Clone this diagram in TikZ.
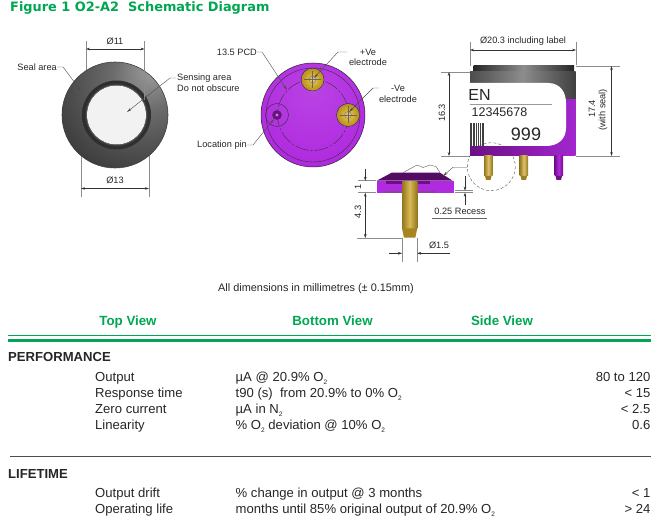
\documentclass[tikz,border=0pt]{standalone}
\usepackage{fontspec}
\setmainfont{Liberation Sans}
\newfontfamily\titlefont{DejaVu Sans}
\usetikzlibrary{arrows.meta}
\definecolor{sensgreen}{HTML}{00A651}
\definecolor{sensviolet}{HTML}{B02AE0}
\definecolor{sensdeep}{HTML}{6E0F86}
\definecolor{sensgold}{HTML}{D0A82A}
\pgfdeclareradialshading{sealshade}{\pgfpoint{18bp}{22bp}}{color(0bp)=(black!38); color(16bp)=(black!58); color(40bp)=(black!76); color(85bp)=(black!84)}
\pgfdeclareradialshading{violetshade}{\pgfpoint{0bp}{12bp}}{color(0bp)=(sensviolet!88!white); color(30bp)=(sensviolet); color(64bp)=(sensviolet!72!black)}
\pgfdeclareradialshading{padshade}{\pgfpoint{0bp}{0bp}}{color(0bp)=(sensgold!60!white); color(14bp)=(sensgold); color(25bp)=(sensgold!85!black)}
\tikzset{
 dimline/.style={black!80, line width=0.45pt, {Stealth[length=4pt,width=2.6pt]}-{Stealth[length=4pt,width=2.6pt]}},
 dimtip/.style={black!80, line width=0.45pt, -{Stealth[length=4pt,width=2.6pt]}},
 extline/.style={black!45, line width=0.4pt},
 leader/.style={black!70, line width=0.4pt, -{Stealth[length=5pt,width=2.4pt]}},
 padmark/.style={black!60, line width=0.25pt},
 notetext/.style={font=\fontsize{9.2}{10.7}\selectfont, text=black!85, inner sep=0pt, align=center},
 viewtitle/.style={font=\fontsize{13.3}{15}\selectfont\bfseries, text=sensgreen, inner sep=0pt, anchor=base},
 headtext/.style={font=\fontsize{13.1}{15}\selectfont\bfseries, text=black!85, inner sep=0pt, anchor=base west},
 celltext/.style={font=\fontsize{13.1}{15}\selectfont, text=black!85, inner sep=0pt, anchor=base west},
 valuetext/.style={font=\fontsize{13.1}{15}\selectfont, text=black!85, inner sep=0pt, anchor=base east},
 labeltext/.style={inner sep=0pt, text=black!85}
}
\newcommand{\subtwo}{\raisebox{-3pt}{\fontsize{6.5}{7}\selectfont 2}}
\begin{document}
\begin{tikzpicture}[x=1pt,y=-1pt]
\useasboundingbox (0,0) rectangle (656,529);
\node [inner sep=0pt, anchor=west, text=sensgreen] (figtitle) at (10,8) {\titlefont\fontsize{12.9}{15}\selectfont\bfseries Figure 1 O2-A2\ \ Schematic Diagram};
% top view
\draw [extline] (86,41) -- (86,72);
\draw [extline] (81,150) -- (81,197);
\draw [extline] (149,150) -- (149,197);
\shade [shading=sealshade] (115,115) circle [radius=53];
\draw [black!75, line width=0.6pt] (115,115) circle [radius=53];
\shade [inner color=black!45, outer color=black!82] (116.5,115) circle [radius=34.5];
\draw [black!85, line width=0.4pt] (116.5,115) circle [radius=32.5];
\fill [black!5] (116.5,115) circle [radius=29.5];
\draw [black!60, line width=0.5pt] (116.5,115) circle [radius=30];
\draw [extline] (144.5,41) -- (144.5,100);
\draw [dimline] (86,49) -- (144.5,49);
\draw [dimline] (81,188.5) -- (149,188.5);
\node [notetext] (topdia) at (115,41) {Ø11};
\node [notetext] (topseal) at (115,180) {Ø13};
\node [notetext, anchor=east] (seallabel) at (57,67) {Seal area};
\node [notetext, anchor=west, align=left] (senselabel) at (177,83) {Sensing area\\Do not obscure};
\coordinate (sealtip) at (81,91);
\coordinate (sensetip) at (127,112);
\draw [leader] (seallabel.east) -- (63,67) -- (sealtip);
\draw [leader] (176,78) -- (170,78) -- (sensetip);
% bottom view
\shade [shading=violetshade] (313,115) circle [radius=52];
\draw [black!85, line width=0.5pt] (313,115) circle [radius=52];
\draw [black!80, line width=0.4pt] (313,115) circle [radius=47];
\draw [black!80, line width=0.4pt, dash pattern=on 14pt off 2pt on 2pt off 2pt] (313,115) circle [radius=35.5];
\shade [shading=padshade] (312.5,79.5) circle [radius=11.5];
\draw [black!80, line width=0.4pt] (312.5,79.5) circle [radius=11.5];
\shade [shading=padshade] (348,115) circle [radius=11.5];
\draw [black!80, line width=0.4pt] (348,115) circle [radius=11.5];
\draw [padmark] (312.5,79.5) circle [radius=3.5];
\draw [padmark] (348,115) circle [radius=3.5];
\draw [padmark] (304,79.5) -- (321,79.5);
\draw [padmark] (312.5,71) -- (312.5,88);
\draw [padmark] (339.5,115) -- (356.5,115);
\draw [padmark] (348,106.5) -- (348,123.5);
\draw [black!80, line width=0.4pt] (277,115) circle [radius=11.5];
\draw [black!80, fill=sensdeep] (277,115) circle [radius=4.5];
\fill [sensviolet!60!white] (277,115) circle [radius=1.6];
\node [notetext, anchor=east] (pcdlabel) at (257,52) {13.5 PCD};
\node [notetext] (poslabel) at (368,57.5) {+Ve\\electrode};
\node [notetext] (neglabel) at (398,94) {-Ve\\electrode};
\node [notetext, anchor=east] (pinlabel) at (247,145) {Location pin};
\coordinate (pcdtip) at (287,90);
\coordinate (postip) at (314,78);
\coordinate (negtip) at (349,112);
\coordinate (pintip) at (274,119);
\draw [leader] (pcdlabel.east) -- (262,52) -- (pcdtip);
\draw [leader] (347,52) -- (338,52) -- (postip);
\draw [leader] (379,88) -- (373,88) -- (negtip);
\draw [leader] (pinlabel.east) -- (253,145) -- (pintip);
% side view
\draw [extline] (470,42) -- (470,66);
\draw [extline] (576,42) -- (576,65);
\draw [extline] (441,72) -- (470,72);
\draw [extline] (441,156) -- (470,156);
\draw [extline] (576,66) -- (620,66);
\draw [extline] (576,156) -- (620,156);
\draw [dimline] (470,50) -- (576,50);
\draw [dimline] (449,72) -- (449,156);
\draw [dimline] (611.5,66) -- (611.5,156);
\shade [left color=black!85, right color=black!85, middle color=black!45] (473.5,66) rectangle (574,72);
\shade [left color=black!70, right color=black!75, middle color=black!45] (470,72) rectangle (575.5,100);
\shade [left color=sensdeep, right color=sensviolet!92!black] (470,100) rectangle (575.5,156);
\shade [left color=sensgold!70!black, right color=sensgold!70!black, middle color=sensgold!70!white] (484,156) rectangle (492.5,176);
\fill [sensgold!75!black] (485,176) -- (491.5,176) -- (490.5,180) -- (486,180) -- cycle;
\shade [left color=sensgold!70!black, right color=sensgold!70!black, middle color=sensgold!70!white] (519.5,156) rectangle (528,176);
\fill [sensgold!75!black] (520.5,176) -- (527,176) -- (526,180) -- (521.5,180) -- cycle;
\shade [left color=sensdeep, right color=sensdeep, middle color=sensviolet] (554.5,156) rectangle (563,176);
\fill [sensdeep] (555.5,176) -- (562,176) -- (561,180) -- (556.5,180) -- cycle;
\fill [white] (470,83) -- (548,83) .. controls (560,83) and (566,92) .. (566,103) -- (566,128) .. controls (566,139) and (558,146) .. (546,146) -- (470,146) -- cycle;
\fill [black!75] (470,123) rectangle (484,146);
\foreach \barx in {472.5,475,477,479.5,481.5}
 \draw [white, line width=0.5pt] (\barx,123) -- (\barx,146);
\draw [black!40, line width=0.4pt] (470,104) -- (552,104);
\node [labeltext, font=\fontsize{16}{18}\selectfont] (makerlabel) at (479.5,95) {EN};
\node [labeltext, font=\fontsize{12.5}{14}\selectfont] (seriallabel) at (499.5,112.5) {12345678};
\node [labeltext, font=\fontsize{18}{20}\selectfont] (codelabel) at (526,134.5) {999};
\node [notetext] (sidedia) at (523,41) {Ø20.3 including label};
\node [notetext, rotate=90] (sideheight) at (442,113) {16.3};
\node [notetext, rotate=90] (sidetotal) at (592,109) {17.4};
\node [notetext, rotate=90] (sideseal) at (603,110) {(with seal)};
% detail
\draw [extline] (358,180.7) -- (376,180.7);
\draw [extline] (358,192.7) -- (376,192.7);
\draw [extline] (357,238) -- (403,238);
\draw [extline] (455,190.7) -- (473,190.7);
\draw [extline] (455,192.7) -- (473,192.7);
\draw [extline] (402,238) -- (402,262);
\draw [extline] (417.3,238) -- (417.3,262);
\fill [sensdeep!75!black] (376.7,180.7) -- (391.7,172.7) -- (440,172.7) -- (452.7,180.7) -- cycle;
\fill [sensviolet] (376.7,180.7) rectangle (454,192.7);
\fill [sensdeep] (386,180.7) rectangle (430,184);
\fill [sensdeep!80] (386,190.7) rectangle (435,192.7);
\shade [left color=sensgold!70!black, right color=sensgold!70!black, middle color=sensgold!80!white] (402,181.7) rectangle (417.3,228.3);
\fill [sensgold!80!black] (402,228.3) -- (404,237.7) -- (415.3,237.7) -- (417.3,228.3) -- cycle;
\draw [black!70, line width=0.35pt] (403,172.7) -- (417,165) -- (423,167.5) -- (430,165) -- (436,166.5) -- (440,172.7);
\draw [dimtip] (365.3,169) -- (365.3,180.7);
\draw [dimline] (365.3,192.7) -- (365.3,238);
\draw [dimtip] (465,176) -- (465,190.7);
\draw [dimtip] (465,205) -- (465,192.7);
\draw [black!60, line width=0.4pt] (432,218.3) -- (487,218.3);
\draw [dimtip] (389,253.3) -- (402,253.3);
\draw [dimtip] (450,253.3) -- (417.3,253.3);
\node [notetext, rotate=90] (flangeheight) at (358,187) {1};
\node [notetext, rotate=90] (pinheight) at (358,212) {4.3};
\node [notetext] (recesslabel) at (460,211) {0.25 Recess};
\node [notetext] (pindia) at (439,245) {Ø1.5};
\draw [black!75, line width=0.35pt, densely dashed] (491.3,166.7) circle [radius=24];
\coordinate (looptip) at (443,176);
\draw [leader] (467.3,167.3) -- (453,167.3) -- (looptip);
% table
\node [notetext, font=\fontsize{10.9}{12}\selectfont] (unitnote) at (316,289) {All dimensions in millimetres (± 0.15mm)};
\node [viewtitle] (topview) at (128,325.5) {Top View};
\node [viewtitle] (bottomview) at (332.5,325.5) {Bottom View};
\node [viewtitle] (sideview) at (502,325.5) {Side View};
\draw [sensgreen, line width=0.7pt] (8,335.7) -- (650.6,335.7);
\draw [sensgreen, line width=3pt] (8,340.2) -- (650.6,340.2);
\draw [black!70, line width=1.3pt] (10,456.7) -- (650.6,456.7);
\node [headtext] (perfhead) at (8,362) {PERFORMANCE};
\node [celltext] (outputname) at (95,381.5) {Output};
\node [celltext] (outputunit) at (235.5,381.5) {µA @ 20.9\% O\subtwo};
\node [valuetext] (outputvalue) at (650.6,381.5) {80 to 120};
\node [celltext] (responsename) at (95,397.5) {Response time};
\node [celltext] (responseunit) at (235.5,397.5) {t90 (s)\ \ from 20.9\% to 0\% O\subtwo};
\node [valuetext] (responsevalue) at (650.6,397.5) {< 15};
\node [celltext] (zeroname) at (95,413.5) {Zero current};
\node [celltext] (zerounit) at (235.5,413.5) {µA in N\subtwo};
\node [valuetext] (zerovalue) at (650.6,413.5) {< 2.5};
\node [celltext] (linearname) at (95,429.5) {Linearity};
\node [celltext] (linearunit) at (235.5,429.5) {\% O\subtwo{} deviation @ 10\% O\subtwo};
\node [valuetext] (linearvalue) at (650.6,429.5) {0.6};
\node [headtext] (lifehead) at (8,478) {LIFETIME};
\node [celltext] (driftname) at (95,497.5) {Output drift};
\node [celltext] (driftunit) at (235.5,497.5) {\% change in output @ 3 months};
\node [valuetext] (driftvalue) at (650.6,497.5) {< 1};
\node [celltext] (lifename) at (95,513.5) {Operating life};
\node [celltext] (lifeunit) at (235.5,513.5) {months until 85\% original output of 20.9\% O\subtwo};
\node [valuetext] (lifevalue) at (650.6,513.5) {> 24};
\end{tikzpicture}
\end{document}
